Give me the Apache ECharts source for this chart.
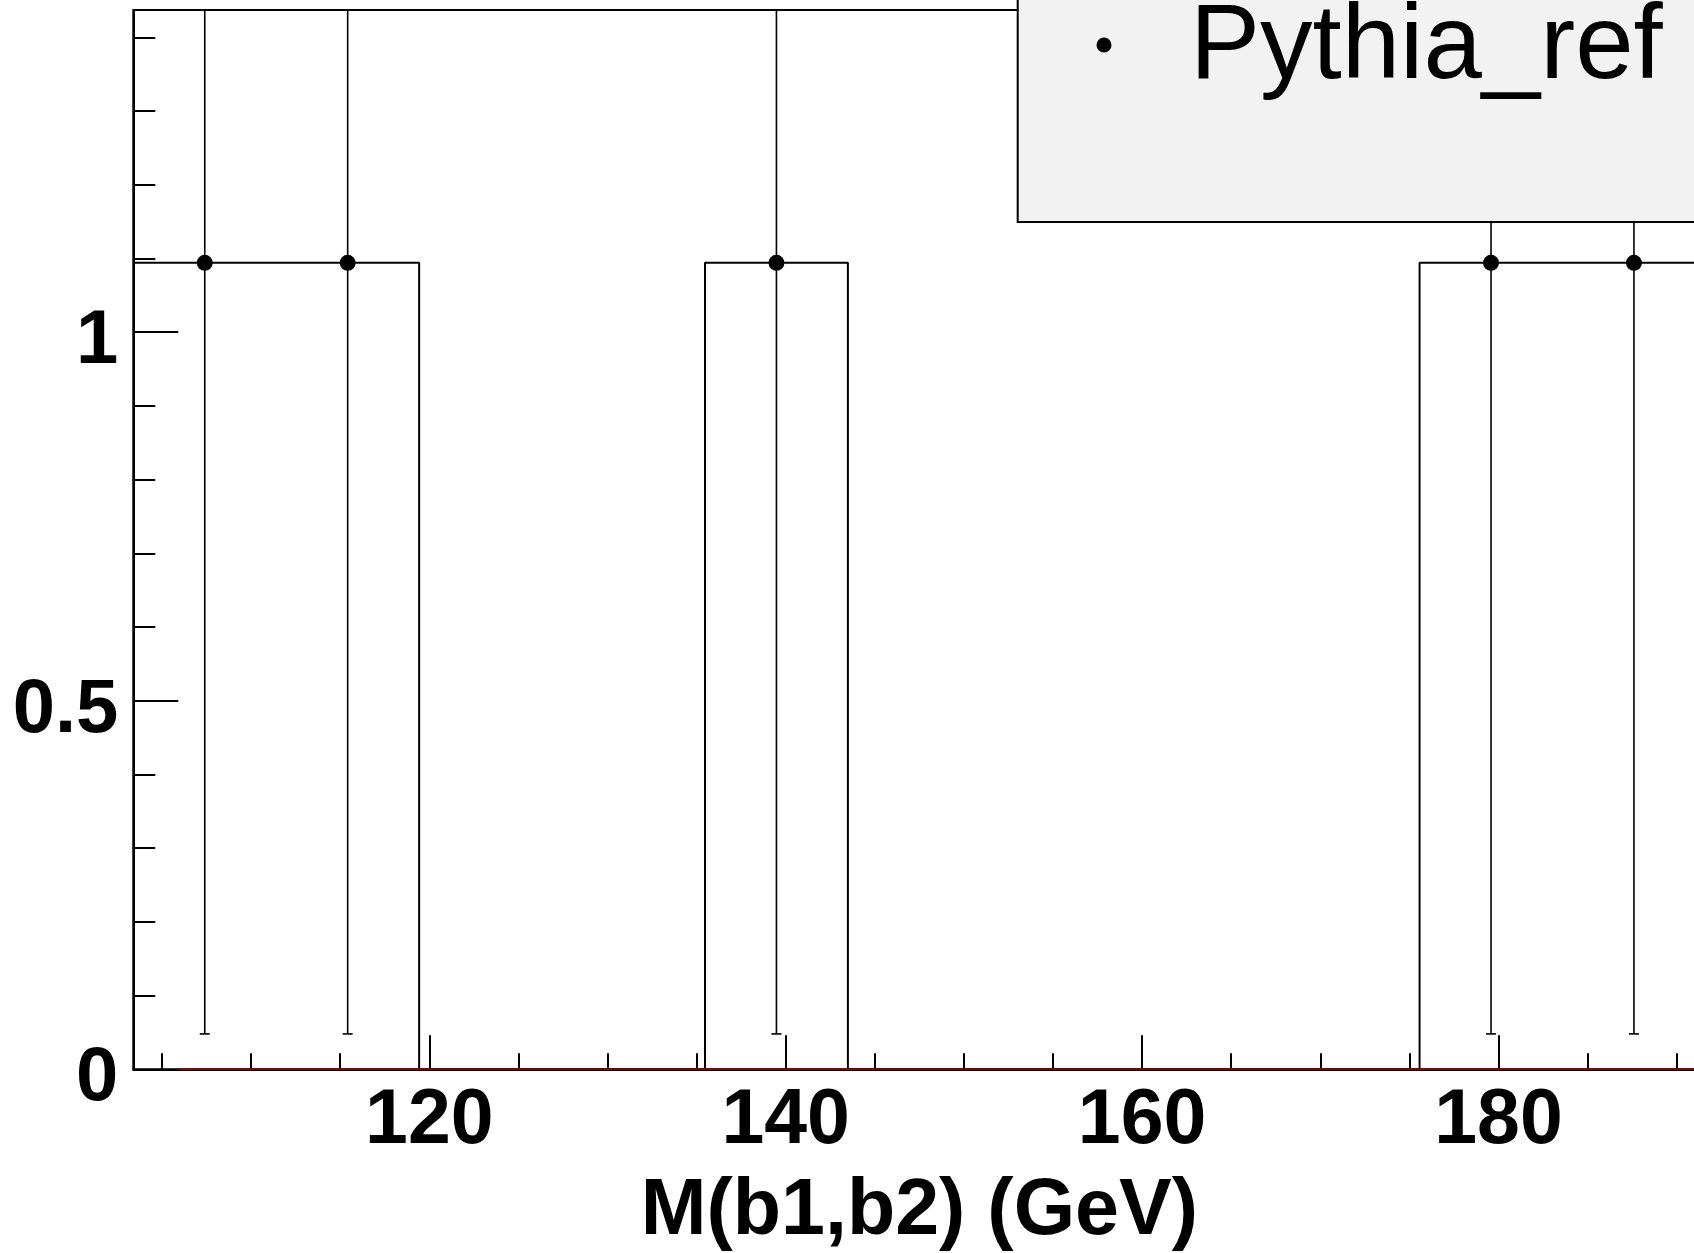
<!DOCTYPE html>
<html>
<head>
<meta charset="utf-8">
<script src="https://cdn.jsdelivr.net/npm/echarts@6/dist/echarts.min.js"></script>
<style>
html,body{margin:0;padding:0;background:#fff;}
#chart{width:1694px;height:1253px;}
</style>
</head>
<body>
<div id="chart"></div>
<script>
// ---- data ----
const binEdges = [103.39, 111.41, 119.43, 127.45, 135.47, 143.49, 151.51, 159.53, 167.55, 175.57, 183.59, 191.61];
const binValues = [1.094, 1.094, 0, 0, 1.094, 0, 0, 0, 0, 1.094, 1.094];
const pointX = [107.40, 115.42, 139.48, 179.58, 187.60];
const pointY = [1.094, 1.094, 1.094, 1.094, 1.094];
const pointErr = [1.046, 1.046, 1.046, 1.046, 1.046];
const redLineX = [105.88, 191.61];
const xMajorTicks = [120, 140, 160, 180];
const xMinorTicks = [105, 110, 115, 125, 130, 135, 145, 150, 155, 165, 170, 175, 185, 190];
const yMajorTicks = [0, 0.5, 1];
const yMinorTicks = [0.1, 0.2, 0.3, 0.4, 0.6, 0.7, 0.8, 0.9, 1.1, 1.2, 1.3, 1.4];
const xRange = [103.39, 191.61];
const yRange = [0, 1.437];
const xTitle = 'M(b1,b2) (GeV)';
const legendLabel = 'Pythia_ref';

// histogram outline vertices
const stepPts = [[binEdges[0], binValues[0]]];
for (let i = 0; i < binValues.length; i++) {
  stepPts.push([binEdges[i + 1], binValues[i]]);
  if (i + 1 < binValues.length) stepPts.push([binEdges[i + 1], binValues[i + 1]]);
}
const points = pointX.map((x, i) => [x, pointY[i], pointErr[i]]);

const FONT = "'Liberation Sans', Arial, sans-serif";
const chart = echarts.init(document.getElementById('chart'), null, {renderer: 'canvas'});
chart.setOption({
  animation: false,
  backgroundColor: '#ffffff',
  grid: {left: 133.3, top: 10, width: 1572.1, height: 1059.3, show: true,
         outerBoundsMode: 'none', containLabel: false,
         borderColor: '#000', borderWidth: 2, backgroundColor: 'transparent'},
  xAxis: [{
    type: 'value', position: 'bottom', min: xRange[0], max: xRange[1],
    axisLine: {show: true, lineStyle: {color: '#000', width: 2}},
    axisTick: {show: true, inside: true, length: 34, customValues: xMajorTicks, lineStyle: {color: '#000', width: 2}},
    axisLabel: {show: true, customValues: xMajorTicks, margin: 14, color: '#000',
                fontFamily: FONT, fontWeight: 'bold', fontSize: 77},
    splitLine: {show: false},
    name: xTitle, nameLocation: 'middle', nameGap: 103,
    nameTextStyle: {color: '#000', fontFamily: FONT, fontWeight: 'bold', fontSize: 79}
  }, {
    type: 'value', position: 'bottom', min: xRange[0], max: xRange[1],
    axisLine: {show: false},
    axisTick: {show: true, inside: true, length: 16, customValues: xMinorTicks, lineStyle: {color: '#000', width: 2}},
    axisLabel: {show: false},
    splitLine: {show: false}
  }],
  yAxis: [{
    type: 'value', position: 'left', min: yRange[0], max: yRange[1],
    axisLine: {show: true, lineStyle: {color: '#000', width: 2}},
    axisTick: {show: true, inside: true, length: 45, customValues: yMajorTicks, lineStyle: {color: '#000', width: 2}},
    axisLabel: {show: true, customValues: yMajorTicks, margin: 15, color: '#000',
                fontFamily: FONT, fontWeight: 'bold', fontSize: 76,
                verticalAlign: 'top', lineHeight: 20},
    splitLine: {show: false}
  }, {
    type: 'value', position: 'left', min: yRange[0], max: yRange[1],
    axisLine: {show: false},
    axisTick: {show: true, inside: true, length: 22, customValues: yMinorTicks, lineStyle: {color: '#000', width: 2}},
    axisLabel: {show: false},
    splitLine: {show: false}
  }],
  series: [{
    type: 'line', xAxisIndex: 0, yAxisIndex: 0, data: stepPts, showSymbol: false, clip: true,
    lineStyle: {color: '#000', width: 2}, z: 3
  }, {
    type: 'line', xAxisIndex: 0, yAxisIndex: 0, data: redLineX.map(x => [x, 0]), showSymbol: false,
    lineStyle: {color: '#8b0000', width: 2}, z: 4
  }, {
    type: 'custom', xAxisIndex: 0, yAxisIndex: 0, data: points, z: 5,
    renderItem: function (params, api) {
      const x = api.value(0), y = api.value(1), e = api.value(2);
      const lo = api.coord([x, y - e]);
      const hi = api.coord([x, y + e]);
      const top = Math.max(hi[1], params.coordSys.y);
      const style = {stroke: '#000', lineWidth: 1.6};
      return {type: 'group', children: [
        {type: 'line', shape: {x1: lo[0], y1: lo[1], x2: lo[0], y2: top}, style: style},
        {type: 'line', shape: {x1: lo[0] - 5, y1: lo[1], x2: lo[0] + 5, y2: lo[1]}, style: style}
      ]};
    }
  }, {
    type: 'scatter', xAxisIndex: 0, yAxisIndex: 0, data: points.map(p => [p[0], p[1]]),
    symbol: 'circle', symbolSize: 16, itemStyle: {color: '#000', opacity: 1}, z: 6
  }],
  graphic: [
    {type: 'rect', z: 100, shape: {x: 1017.7, y: -20, width: 800, height: 242},
     style: {fill: '#f2f2f2', stroke: '#000', lineWidth: 2}},
    {type: 'circle', z: 101, shape: {cx: 1104, cy: 45, r: 7.5}, style: {fill: '#000'}},
    {type: 'text', z: 101, x: 1190, y: 49,
     style: {text: legendLabel, fill: '#000', font: "105px 'Liberation Sans', Arial, sans-serif",
             verticalAlign: 'middle', align: 'left'}}
  ]
});
</script>
</body>
</html>
